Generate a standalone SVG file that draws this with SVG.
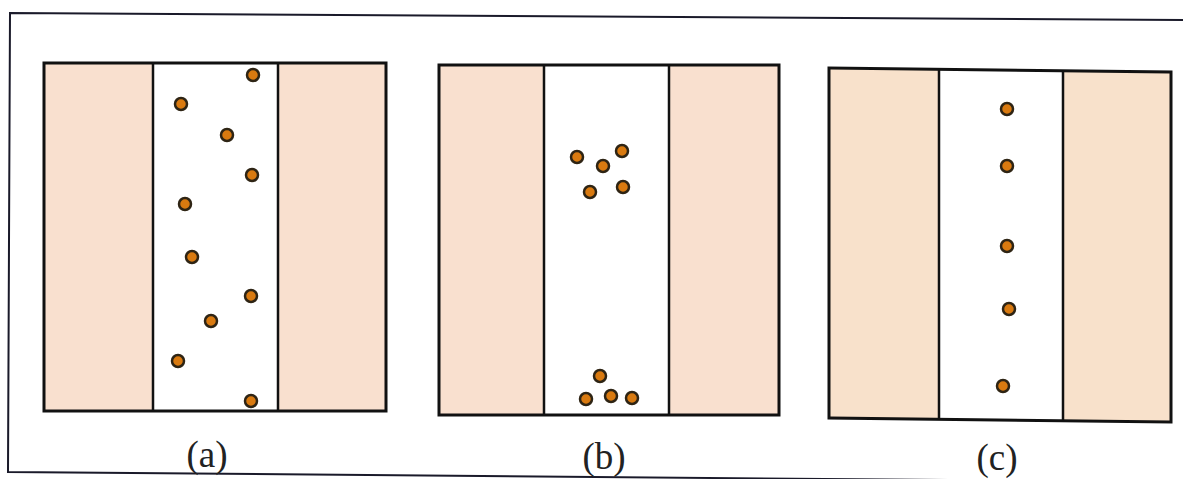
<svg xmlns="http://www.w3.org/2000/svg" width="1183" height="479" viewBox="0 0 1183 479">
<style>
.wall{fill:#f9e0cf;stroke:none}
.wallc{fill:#f8e1cb;stroke:none}
.frame{fill:none;stroke:#111;stroke-width:3}
.div{stroke:#111;stroke-width:2.5}
.dot{fill:#d97a10;stroke:#2e2414;stroke-width:2.5}
.lbl{font-family:"Liberation Serif","Times New Roman",serif;font-size:37px;fill:#222;text-anchor:middle}
</style>
<rect width="1183" height="479" fill="#fff"/>
<g id="border" fill="none" stroke="#1a1a2a" stroke-width="2">
<polyline points="1183,20 10,13 8,472 1183,482"/>
</g>
<g id="panel-a">
<rect class="wall" x="44" y="63" width="109" height="348"/>
<rect class="wall" x="278" y="63" width="108" height="348"/>
<rect class="frame" x="44" y="63" width="342" height="348"/>
<line class="div" x1="153" y1="63" x2="153" y2="411"/>
<line class="div" x1="278" y1="63" x2="278" y2="411"/>
<circle class="dot" cx="253" cy="75" r="6"/>
<circle class="dot" cx="181" cy="104" r="6"/>
<circle class="dot" cx="227" cy="135" r="6"/>
<circle class="dot" cx="252" cy="175" r="6"/>
<circle class="dot" cx="185" cy="204" r="6"/>
<circle class="dot" cx="192" cy="257" r="6"/>
<circle class="dot" cx="251" cy="296" r="6"/>
<circle class="dot" cx="211" cy="321" r="6"/>
<circle class="dot" cx="178" cy="361" r="6"/>
<circle class="dot" cx="251" cy="401" r="6"/>
<text class="lbl" x="207" y="467">(a)</text>
</g>
<g id="panel-b">
<rect class="wall" x="439" y="65" width="105" height="350"/>
<rect class="wall" x="669" y="65" width="110" height="350"/>
<rect class="frame" x="439" y="65" width="340" height="350"/>
<line class="div" x1="544" y1="65" x2="544" y2="415"/>
<line class="div" x1="669" y1="65" x2="669" y2="415"/>
<circle class="dot" cx="577" cy="157" r="6"/>
<circle class="dot" cx="603" cy="166" r="6"/>
<circle class="dot" cx="622" cy="151" r="6"/>
<circle class="dot" cx="590" cy="192" r="6"/>
<circle class="dot" cx="623" cy="187" r="6"/>
<circle class="dot" cx="600" cy="376" r="6"/>
<circle class="dot" cx="586" cy="399" r="6"/>
<circle class="dot" cx="611" cy="396" r="6"/>
<circle class="dot" cx="632" cy="398" r="6"/>
<text class="lbl" x="604" y="469">(b)</text>
</g>
<g id="panel-c">
<g transform="translate(829 68) skewY(0.67) translate(-829 -68)">
<rect class="wallc" x="829" y="68" width="110" height="350"/>
<rect class="wallc" x="1063" y="68" width="108" height="350"/>
<rect class="frame" x="829" y="68" width="342" height="350"/>
<line class="div" x1="939" y1="68" x2="939" y2="418"/>
<line class="div" x1="1063" y1="68" x2="1063" y2="418"/>
</g>
<circle class="dot" cx="1007" cy="109" r="6"/>
<circle class="dot" cx="1007" cy="166" r="6"/>
<circle class="dot" cx="1007" cy="246" r="6"/>
<circle class="dot" cx="1009" cy="309" r="6"/>
<circle class="dot" cx="1003" cy="386" r="6"/>
<text class="lbl" x="997" y="470">(c)</text>
</g>
</svg>
